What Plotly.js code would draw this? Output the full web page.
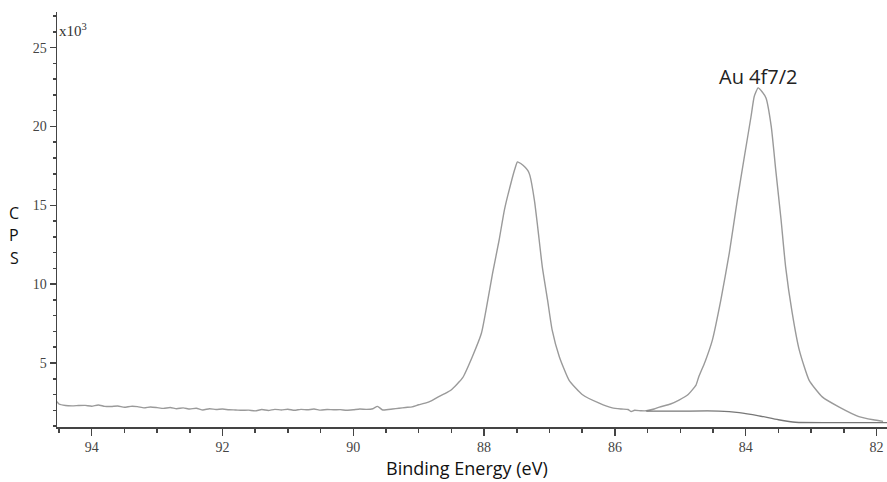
<!DOCTYPE html>
<html>
<head>
<meta charset="utf-8">
<script src="https://cdn.plot.ly/plotly-3.0.1.min.js"></script>
<style>html,body{margin:0;padding:0;background:#fff;}#chart{width:887px;height:482px;}</style>
</head>
<body>
<div id="chart"></div>
<script>
// Binding energy (eV) and counts (x10^3 CPS)
const energy = [94.53,94.5,94.4,94.3,94.2,94.1,94.0,93.9,93.8,93.7,93.6,93.5,93.4,93.3,93.2,93.1,93.0,92.9,92.8,92.7,92.6,92.5,92.4,92.3,92.2,92.1,92.0,91.9,91.8,91.7,91.6,91.5,91.4,91.3,91.2,91.1,91.0,90.9,90.8,90.7,90.6,90.5,90.4,90.3,90.2,90.1,90.0,89.9,89.8,89.7,89.63,89.55,89.4,89.3,89.2,89.1,89.0,88.9,88.8,88.7,88.6,88.5,
  88.33,88.18,88.04,87.96,87.87,87.77,87.69,87.59,87.53,87.49,87.44,87.38,87.33,87.30,87.23,87.18,87.11,87.03,86.96,86.85,86.70,86.50,86.24,86.04,85.9,85.8,85.75,85.7,85.6,85.52,85.4,85.32,85.15,85.02,84.88,84.76,84.72,84.62,84.51,84.38,84.25,84.13,84.02,83.92,83.87,83.81,83.75,83.69,83.61,83.54,83.46,83.39,83.29,83.18,83.03,82.83,82.57,82.27,82.05,81.9];
const cps = [2.55,2.40,2.30,2.28,2.30,2.31,2.26,2.34,2.25,2.24,2.27,2.19,2.25,2.23,2.15,2.21,2.17,2.12,2.18,2.10,2.15,2.08,2.13,2.02,2.10,2.05,2.08,2.03,2.02,2.00,2.01,1.96,2.05,1.99,2.06,2.02,2.07,2.00,2.06,2.03,2.08,2.01,2.05,2.03,2.04,2.00,2.03,2.08,2.06,2.10,2.25,2.02,2.08,2.13,2.18,2.22,2.35,2.45,2.62,2.85,3.05,3.30,
  4.05,5.4,6.9,8.6,10.7,12.8,14.7,16.4,17.3,17.75,17.65,17.45,17.2,16.9,15.3,13.6,11.1,9.0,7.1,5.4,3.9,3.0,2.45,2.15,2.08,2.05,1.92,2.0,1.97,1.97,2.08,2.2,2.4,2.65,3.0,3.6,4.1,5.1,6.45,9.0,12.0,15.3,18.1,20.6,21.9,22.45,22.2,21.8,20.0,17.2,14.1,11.1,8.2,5.8,3.9,2.85,2.2,1.6,1.4,1.3];
// Fitted background line
const bgEnergy = [85.52,85.0,84.41,84.1,83.8,83.5,83.24,82.5,81.84];
const bgCps = [1.95,1.95,1.95,1.85,1.65,1.4,1.24,1.22,1.22];
const xTicks = [94,92,90,88,86,84,82];
const yTicks = [5,10,15,20,25];

const data = [
  {x: energy, y: cps, type: 'scatter', mode: 'lines', line: {color: '#9a9a9a', width: 1.4, shape: 'spline', smoothing: 0.5}, hoverinfo: 'skip'},
  {x: bgEnergy, y: bgCps, type: 'scatter', mode: 'lines', line: {color: '#777777', width: 1.3, shape: 'spline', smoothing: 0.6}, hoverinfo: 'skip'}
];
const tickFont = {family: 'Liberation Serif, serif', size: 14, color: '#444444'};
const sans = 'Open Sans, sans-serif';
const layout = {
  width: 887, height: 482,
  margin: {l: 57, r: 0, t: 12, b: 55},
  paper_bgcolor: '#fff', plot_bgcolor: '#fff',
  showlegend: false,
  xaxis: {
    range: [94.53, 81.84], tickmode: 'array', tickvals: xTicks, ticktext: xTicks.map(String),
    ticks: 'outside', ticklen: 7, tickwidth: 1.5, tickcolor: '#444',
    showline: true, linecolor: '#444', linewidth: 1.5, showgrid: false, zeroline: false,
    tickfont: tickFont,
    minor: {dtick: 0.5, tick0: 0, ticks: 'outside', ticklen: 4, tickwidth: 1.5, tickcolor: '#444', showgrid: false}
  },
  yaxis: {
    range: [0.94, 27.26], tickmode: 'array', tickvals: yTicks, ticktext: yTicks.map(String),
    ticks: 'outside', ticklen: 6, tickwidth: 1.5, tickcolor: '#444',
    showline: true, linecolor: '#444', linewidth: 1.5, showgrid: false, zeroline: false,
    tickfont: tickFont,
    minor: {dtick: 1, tick0: 0, ticks: 'outside', ticklen: 3, tickwidth: 1.5, tickcolor: '#444', showgrid: false}
  },
  annotations: [
    {text: 'x10<sup>3</sup>', xref: 'paper', yref: 'paper', x: 0, y: (427-30)/415, xanchor: 'left', yanchor: 'middle', showarrow: false, font: {family: 'Liberation Serif, serif', size: 15, color: '#333'}},
    {text: 'Au 4f7/2', xref: 'x', yref: 'y', x: 83.81, y: 23.15, xanchor: 'center', yanchor: 'middle', showarrow: false, font: {family: sans, size: 20, color: '#222'}},
    {text: 'Binding Energy (eV)', xref: 'paper', yref: 'paper', x: (467-57)/830, y: (427-468)/415, xanchor: 'center', yanchor: 'middle', showarrow: false, font: {family: sans, size: 18, color: '#111'}},
    {text: 'C', xref: 'paper', yref: 'paper', x: (14-57)/830, y: (427-213)/415, xanchor: 'center', yanchor: 'middle', showarrow: false, font: {family: sans, size: 16, color: '#111'}},
    {text: 'P', xref: 'paper', yref: 'paper', x: (14-57)/830, y: (427-235)/415, xanchor: 'center', yanchor: 'middle', showarrow: false, font: {family: sans, size: 16, color: '#111'}},
    {text: 'S', xref: 'paper', yref: 'paper', x: (14-57)/830, y: (427-258)/415, xanchor: 'center', yanchor: 'middle', showarrow: false, font: {family: sans, size: 16, color: '#111'}}
  ]
};
Plotly.newPlot('chart', data, layout, {displayModeBar: false, staticPlot: true});
</script>
</body>
</html>
